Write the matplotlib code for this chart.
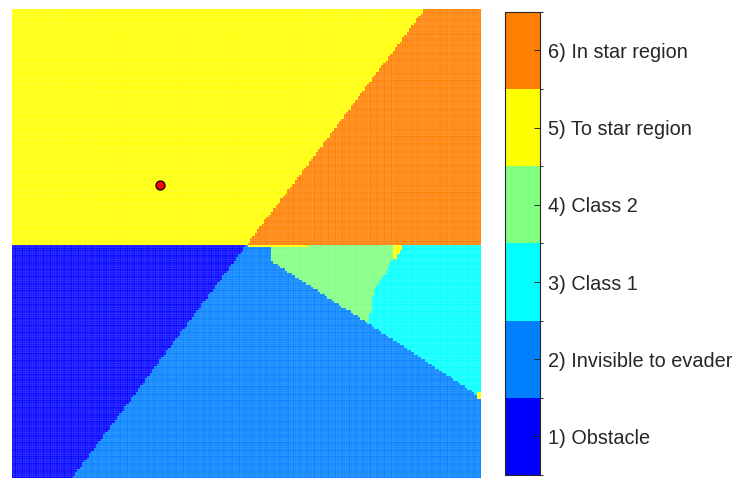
import numpy as np
import matplotlib
matplotlib.use('Agg')
import matplotlib.pyplot as plt
from matplotlib.colors import ListedColormap, BoundaryNorm
from matplotlib.path import Path

plt.rcParams['font.family'] = ['Liberation Sans', 'DejaVu Sans']

# class names and colours (jet(6))
class_labels = ['1) Obstacle', '2) Invisible to evader', '3) Class 1',
                '4) Class 2', '5) To star region', '6) In star region']
class_colors = ['#0000ff', '#0080ff', '#00ffff', '#80ff80', '#ffff00', '#ff8000']

# evader position
evader = [31.5, 62.5]

# region outlines (data units 0..100)
y_mid = 49.7
star_region = [(50.0, y_mid), (88.3, 100.5), (101, 100.5), (101, y_mid)]
obstacle = [(-1, -1), (12.0, -1), (50.0, y_mid), (-1, y_mid)]
class1 = [(81.5, y_mid), (101, y_mid), (101, 16.6), (75.9, 33.0), (76.6, 35.4),
          (76.8, 38.4), (77.9, 41.2), (79.8, 43.9), (81.5, 46.9)]
class2 = [(55.0, y_mid), (81.5, y_mid), (81.5, 46.9), (79.8, 43.9), (77.9, 41.2),
          (76.8, 38.4), (76.6, 35.4), (75.9, 33.0), (55.0, 46.5)]
to_star_bits = [
    [(50.0, y_mid), (63.4, y_mid), (63.4, 49.1), (50.0, 49.1)],
    [(81.3, y_mid), (83.6, y_mid), (82.0, 46.7), (81.3, 46.7)],
    [(99.3, 16.8), (101, 16.8), (101, 18.2), (99.3, 18.2)],
]

# grid of sample points
gx, gy = np.meshgrid(np.arange(0, 100.01, 0.5), np.arange(0, 100.01, 0.5))
pts = np.column_stack([gx.ravel(), gy.ravel()])

def inside(poly):
    return Path(poly).contains_points(pts)

cls = np.where(pts[:, 1] >= y_mid, 5, 2)
cls[(pts[:, 1] >= y_mid) & inside(star_region)] = 6
cls[inside(obstacle)] = 1
cls[inside(class1)] = 3
cls[inside(class2)] = 4
for poly in to_star_bits:
    cls[inside(poly)] = 5

cmap = ListedColormap(class_colors)
norm = BoundaryNorm(np.arange(0.5, 7.5, 1), cmap.N)

fig = plt.figure(figsize=(7.48, 4.88), dpi=100)
ax = fig.add_axes([0.016, 0.0195, 0.6277, 0.962])
sc = ax.scatter(pts[:, 0], pts[:, 1], c=cls, cmap=cmap, norm=norm,
                marker='s', s=3.4, linewidths=0.25,
                edgecolors=(1, 1, 1, 0.32))
ax.plot(evader[0], evader[1], 'o', color='red', markeredgecolor='black',
        markersize=6.5, markeredgewidth=0.9)
ax.set_xlim(-0.25, 100.25)
ax.set_ylim(-0.25, 100.25)
ax.axis('off')

cax = fig.add_axes([0.675, 0.0266, 0.0468, 0.949])
cb = fig.colorbar(sc, cax=cax, ticks=range(1, 7))
cb.set_ticklabels(class_labels)
cb.ax.tick_params(direction='in', length=4, width=0.7, pad=6,
                  labelsize=14.3, labelcolor='#262626', color='#262626')
cb.outline.set_edgecolor('#262626')
cb.outline.set_linewidth(0.8)

fig.savefig('out.png', dpi=100)
